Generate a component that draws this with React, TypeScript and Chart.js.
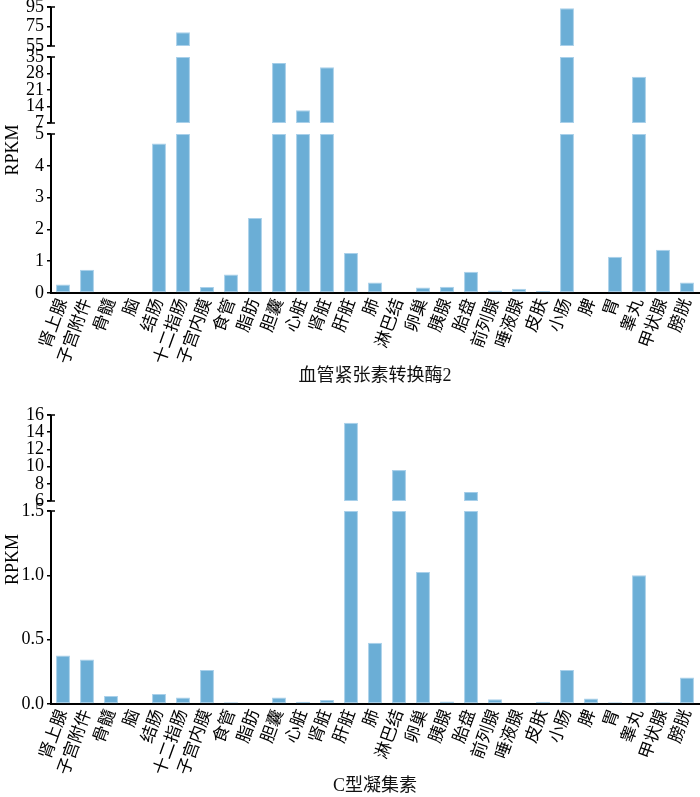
import React, { useEffect, useRef } from 'react';
import { Chart, registerables } from 'chart.js';

Chart.register(...registerables);

// ---------- data ----------
const CATEGORIES = [
  '肾上腺', '子宫附件', '骨髓', '脑', '结肠', '十二指肠', '子宫内膜', '食管', '脂肪',
  '胆囊', '心脏', '肾脏', '肝脏', '肺', '淋巴结', '卵巢', '胰腺', '胎盘', '前列腺',
  '唾液腺', '皮肤', '小肠', '脾', '胃', '睾丸', '甲状腺', '膀胱',
];

const ACE2_VALUES = [
  0.27, 0.73, 0.02, 0.02, 4.7, 69, 0.19, 0.58, 2.36,
  32.5, 12.4, 30.6, 1.26, 0.33, 0.02, 0.17, 0.2, 0.67, 0.08,
  0.13, 0.06, 93.7, 0, 1.14, 26.6, 1.36, 0.33,
];

const CLEC_VALUES = [
  0.376, 0.345, 0.062, 0, 0.078, 0.05, 0.264, 0.013, 0,
  0.05, 0.018, 0.031, 15.1, 0.477, 9.6, 1.025, 0.02, 7.06, 0.036,
  0, 0.018, 0.264, 0.042, 0.013, 1.0, 0.013, 0.205,
];

const ACE2_TITLE = '血管紧张素转换酶2';
const CLEC_TITLE = 'C型凝集素';
const Y_TITLE = 'RPKM';

// broken y-axis segments (value ranges) and their tick labels
const ACE2_SEG_RANGES = [[0, 5], [7, 35], [55, 95]];
const ACE2_SEG_TICKS = [[0, 1, 2, 3, 4, 5], [7, 14, 21, 28, 35], [55, 75, 95]];
const ACE2_SEG_DECIMALS = [0, 0, 0];

const CLEC_SEG_RANGES = [[0, 1.5], [6, 16]];
const CLEC_SEG_TICKS = [[0, 0.5, 1.0, 1.5], [6, 8, 10, 12, 14, 16]];
const CLEC_SEG_DECIMALS = [1, 0];

// ---------- helpers ----------
const FONT = '"Liberation Serif", "Noto Sans CJK SC", serif';

type Seg = { lo: number; hi: number; v0: number; v1: number; ticks: number[]; dec: number };

function buildSegs(ranges: number[][], ticks: number[][], decs: number[], heights: number[], gap: number): Seg[] {
  let v = 0;
  return ranges.map((r, i) => {
    const s = { lo: r[0], hi: r[1], v0: v, v1: v + heights[i], ticks: ticks[i], dec: decs[i] };
    v += heights[i] + gap;
    return s;
  });
}

function toV(seg: Seg, val: number) {
  return seg.v0 + ((val - seg.lo) / (seg.hi - seg.lo)) * (seg.v1 - seg.v0);
}

type PanelProps = {
  values: number[];
  segs: Seg[];
  title: string;
  height: number;
  padTop: number;
  axisHeight: number;
  titlePadBottom: number;
};

function Panel({ values, segs, title, height, padTop, axisHeight, titlePadBottom }: PanelProps) {
  const ref = useRef<HTMLCanvasElement>(null);

  useEffect(() => {
    const canvas = ref.current;
    if (!canvas) return;

    const tickVs = segs.flatMap((s) => s.ticks.map((t) => toV(s, t)));
    const tickLabels = segs.flatMap((s) => s.ticks.map((t) => t.toFixed(s.dec)));
    const vMax = segs[segs.length - 1].v1;

    const datasets = segs.map((s) => ({
      data: values.map((val) => (val > s.lo ? [s.v0, toV(s, Math.min(val, s.hi))] : null)),
      backgroundColor: '#6baed6',
      borderColor: '#a9d0ea',
      borderWidth: 1,
      borderSkipped: false,
      grouped: false,
      barPercentage: 0.58,
      categoryPercentage: 1,
    }));

    const brokenAxis = {
      id: 'brokenAxis',
      afterDraw(chart: any) {
        const y = chart.scales.y;
        const x0 = chart.chartArea.left;
        const ctx = chart.ctx;
        ctx.save();
        ctx.strokeStyle = '#000';
        for (const s of segs) {
          const pa = y.getPixelForValue(s.v0);
          const pb = y.getPixelForValue(s.v1);
          ctx.lineWidth = 2;
          ctx.beginPath();
          ctx.moveTo(x0, pa + (s.v0 === 0 ? 1 : 0));
          ctx.lineTo(x0, pb);
          ctx.stroke();
          ctx.lineWidth = 1.5;
          const caps = s.v0 === 0 ? [pb] : [pa, pb];
          for (const p of caps) {
            ctx.beginPath();
            ctx.moveTo(x0 - 4, p);
            ctx.lineTo(x0 + 4, p);
            ctx.stroke();
          }
        }
        ctx.restore();
      },
    };

    const chart = new Chart(canvas, {
      type: 'bar',
      data: { labels: CATEGORIES, datasets: datasets as any },
      options: {
        responsive: false,
        animation: false,
        devicePixelRatio: 1,
        layout: { padding: { top: padTop, right: 1, left: 0, bottom: 0 } },
        plugins: { legend: { display: false }, tooltip: { enabled: false } },
        scales: {
          x: {
            type: 'category',
            grid: { display: false, drawTicks: false },
            border: { display: true, color: '#000', width: 2 },
            ticks: {
              autoSkip: false,
              minRotation: 70,
              maxRotation: 70,
              padding: 3,
              color: '#000',
              font: { size: 17, family: FONT },
            },
            title: {
              display: true,
              text: title,
              color: '#111',
              font: { size: 18, family: FONT },
              padding: { top: 0, bottom: titlePadBottom },
            },
            afterFit(scale: any) {
              scale.height = axisHeight;
              scale.paddingLeft = 0;
              scale.paddingRight = 0;
            },
          } as any,
          y: {
            type: 'linear',
            min: 0,
            max: vMax,
            grid: { display: true, drawOnChartArea: false, drawTicks: true, tickLength: 4, color: '#000', lineWidth: 1.5 },
            border: { display: false },
            ticks: {
              autoSkip: false,
              padding: 3,
              color: '#000',
              font: { size: 18, family: FONT, lineHeight: 1 },
              callback: (_v: any, i: number) => tickLabels[i],
            },
            title: {
              display: true,
              text: Y_TITLE,
              color: '#000',
              font: { size: 18, family: FONT },
              padding: { top: 2, bottom: 0 },
            },
            afterBuildTicks(scale: any) {
              scale.ticks = tickVs.map((v) => ({ value: v }));
            },
            afterFit(scale: any) {
              scale.width = 51;
              scale.paddingTop = 0;
              scale.paddingBottom = 0;
            },
          } as any,
        },
      },
      plugins: [brokenAxis],
    });

    return () => chart.destroy();
  }, []);

  return <canvas ref={ref} width={700} height={height} style={{ display: 'block', width: 700, height }} />;
}

export default function App() {
  const ace2Segs = buildSegs(ACE2_SEG_RANGES, ACE2_SEG_TICKS, ACE2_SEG_DECIMALS, [159, 66, 39], 11);
  const clecSegs = buildSegs(CLEC_SEG_RANGES, CLEC_SEG_TICKS, CLEC_SEG_DECIMALS, [193, 86], 10);
  return (
    <div style={{ position: 'absolute', left: 0, top: 0, width: 700, background: '#fff' }}>
      <Panel values={ACE2_VALUES} segs={ace2Segs} title={ACE2_TITLE} height={400} padTop={7} axisHeight={107} titlePadBottom={13} />
      <Panel values={CLEC_VALUES} segs={clecSegs} title={CLEC_TITLE} height={397} padTop={15} axisHeight={93} titlePadBottom={0} />
    </div>
  );
}
